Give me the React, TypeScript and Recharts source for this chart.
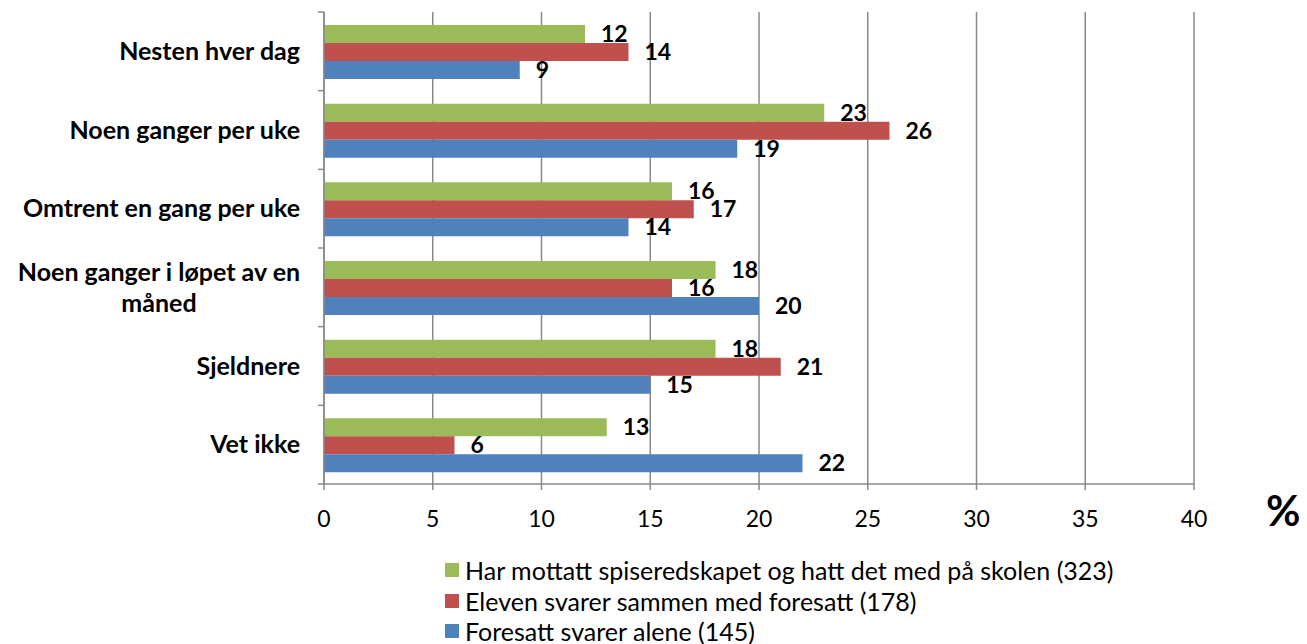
import React from 'react'
import { BarChart, Bar, XAxis, YAxis, CartesianGrid, LabelList } from 'recharts'

const categories = [
  'Nesten hver dag',
  'Noen ganger per uke',
  'Omtrent en gang per uke',
  'Noen ganger i løpet av en måned',
  'Sjeldnere',
  'Vet ikke',
]
const mottatt = [12, 23, 16, 18, 18, 13]
const sammen = [14, 26, 17, 16, 21, 6]
const alene = [9, 19, 14, 20, 15, 22]
const xTicks = [0, 5, 10, 15, 20, 25, 30, 35, 40]

const series = [
  { key: 'mottatt', name: 'Har mottatt spiseredskapet og hatt det med på skolen (323)', color: '#9BBB59' },
  { key: 'sammen', name: 'Eleven svarer sammen med foresatt (178)', color: '#C0504D' },
  { key: 'alene', name: 'Foresatt svarer alene (145)', color: '#4F81BD' },
]

const data = categories.map((name, i) => ({
  name,
  mottatt: mottatt[i],
  sammen: sammen[i],
  alene: alene[i],
}))

const FONT = 'Lato, "Open Sans", sans-serif'
const AXIS = '#898989'

function wrap(text: string, max: number) {
  const words = text.split(' ')
  const lines: string[] = []
  let cur = ''
  for (const w of words) {
    const next = cur ? cur + ' ' + w : w
    if (next.length > max && cur) {
      lines.push(cur)
      cur = w
    } else cur = next
  }
  if (cur) lines.push(cur)
  return lines
}

// category label + tick marks at the band edges (Excel style)
function CategoryTick(props: any) {
  const { x, y, payload, index } = props
  const half = payload.offset || 39.33
  const axisX = x + 24
  const lines = wrap(payload.value, 25)
  const lh = 31
  const top = y - ((lines.length - 1) * lh) / 2
  const multi = lines.length > 1
  return (
    <g>
      <line x1={axisX - 6} x2={axisX} y1={y - half} y2={y - half} stroke={AXIS} strokeWidth={1.5} />
      {index === categories.length - 1 && (
        <line x1={axisX - 6} x2={axisX} y1={y + half} y2={y + half} stroke={AXIS} strokeWidth={1.5} />
      )}
      {lines.map((l, i) => (
        <text
          key={i}
          x={multi ? x - 141 : x}
          y={top + i * lh}
          dy="0.35em"
          textAnchor={multi ? 'middle' : 'end'}
          fontFamily={FONT}
          fontWeight="bold"
          fontSize={25}
          fill="#000"
        >
          {l}
        </text>
      ))}
    </g>
  )
}

export default function App() {
  return (
    <div style={{ position: 'absolute', left: 0, top: 0, width: 1307, height: 644, background: '#fff', fontFamily: FONT }}>
      <BarChart
        width={1307}
        height={540}
        data={data}
        layout="vertical"
        margin={{ top: 12, right: 113, left: 0, bottom: 0 }}
        barCategoryGap="16.5%"
        barGap={0}
      >
        <CartesianGrid horizontal={false} stroke={AXIS} strokeWidth={1.5} />
        <XAxis
          type="number"
          domain={[0, 40]}
          ticks={xTicks}
          interval={0}
          height={56}
          tickSize={6}
          tickMargin={21}
          axisLine={{ stroke: AXIS, strokeWidth: 1.5 }}
          tickLine={{ stroke: AXIS, strokeWidth: 1.5 }}
          tick={{ fill: '#000', fontSize: 23, fontFamily: FONT }}
        />
        <YAxis
          type="category"
          dataKey="name"
          width={324}
          tickSize={6}
          tickMargin={18}
          tickLine={false}
          axisLine={{ stroke: AXIS, strokeWidth: 1.5 }}
          tick={<CategoryTick />}
          interval={0}
        />
        {series.map((s) => (
          <Bar key={s.key} dataKey={s.key} name={s.name} fill={s.color} isAnimationActive={false}>
            <LabelList
              dataKey={s.key}
              position="right"
              offset={16}
              fill="#000"
              fontWeight="bold"
              fontSize={23}
              fontFamily={FONT}
            />
          </Bar>
        ))}
      </BarChart>
      <div style={{ position: 'absolute', left: 1266, top: 485, fontSize: 42, fontWeight: 'bold', color: '#000', lineHeight: '50px' }}>%</div>
      <div style={{ position: 'absolute', left: 445, top: 555 }}>
        {series.map((s) => (
          <div key={s.key} style={{ display: 'flex', alignItems: 'center', height: 30.5 }}>
            <span style={{ width: 14, height: 14, background: s.color, marginRight: 6, display: 'inline-block', flexShrink: 0 }} />
            <span style={{ fontSize: 25, color: '#000', whiteSpace: 'nowrap', lineHeight: '30px' }}>{s.name}</span>
          </div>
        ))}
      </div>
    </div>
  )
}
